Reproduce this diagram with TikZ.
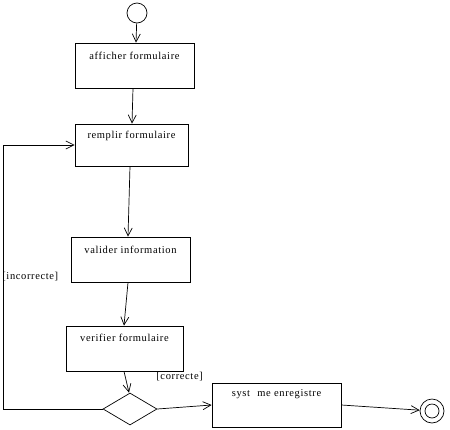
\documentclass[tikz,border=0pt]{standalone}
\usepackage{fontspec}
\setmainfont[LetterSpace=6]{Liberation Serif}
\usetikzlibrary{arrows.meta,shapes.geometric}
\begin{document}
\begin{tikzpicture}[x=1pt,y=-1pt,
  every node/.style={font=\fontsize{10.5}{12}\selectfont},
  line width=0.7pt,
  flow/.style={draw,-{Straight Barb[length=8pt,width=8pt]}},
  actbox/.style={draw,rectangle,inner sep=0pt,line width=0.8pt},
  acttext/.style={anchor=north,inner sep=0pt}
]
\useasboundingbox (0,0) rectangle (450,429);
\node[draw,circle,minimum size=20pt,inner sep=0pt] (start) at (137,13) {};
\node[actbox,minimum width=119pt,minimum height=45pt] (b1) at (134.5,65.5) {};
\node[acttext] (t1) at ([yshift=-9pt]b1.north) {afficher formulaire};
\node[actbox,minimum width=113pt,minimum height=42pt] (b2) at (131.5,145) {};
\node[acttext] (t2) at ([yshift=-7pt]b2.north) {remplir formulaire};
\node[actbox,minimum width=119pt,minimum height=45pt] (b3) at (130.5,259.5) {};
\node[acttext] (t3) at ([yshift=-9pt]b3.north) {valider information};
\node[actbox,minimum width=117pt,minimum height=45pt] (b4) at (124.5,348.5) {};
\node[acttext] (t4) at ([yshift=-8pt]b4.north) {verifier formulaire};
\node[draw,diamond,minimum width=54pt,minimum height=32pt,inner sep=0pt,aspect=1.7] (d) at (130,409) {};
\node[actbox,minimum width=129pt,minimum height=44pt] (b5) at (276.5,405) {};
\node[acttext] (t5) at ([yshift=-7pt]b5.north) {syst\hspace{0.7em}me enregistre};
\node[draw,circle,minimum size=24pt,inner sep=0pt] (fin) at (432,411) {};
\node[draw,circle,minimum size=14pt,inner sep=0pt] (fin2) at (fin) {};
\node[anchor=west,inner sep=0pt] (linc) at (2,277) {[incorrecte]};
\node[anchor=west,inner sep=0pt] (lcor) at (156,377) {[correcte]};
\coordinate (lc) at (3,409);
\draw[flow] (start) -- ([xshift=1.5pt]b1.north);
\draw[flow] ([xshift=-1.5pt]b1.south) -- ([xshift=0.5pt]b2.north);
\draw[flow] ([xshift=-1.5pt]b2.south) -- ([xshift=-2.5pt]b3.north);
\draw[flow] ([xshift=-2.5pt]b3.south) -- ([xshift=-0.5pt]b4.north);
\draw[flow] ([xshift=-0.5pt]b4.south) -- ([xshift=-1pt]d.north);
\draw[flow] (d.east) -- (b5.west);
\draw[flow] (b5.east) -- (fin);
\draw[flow] (d.west) -- (lc) |- (b2.west);
\end{tikzpicture}
\end{document}
